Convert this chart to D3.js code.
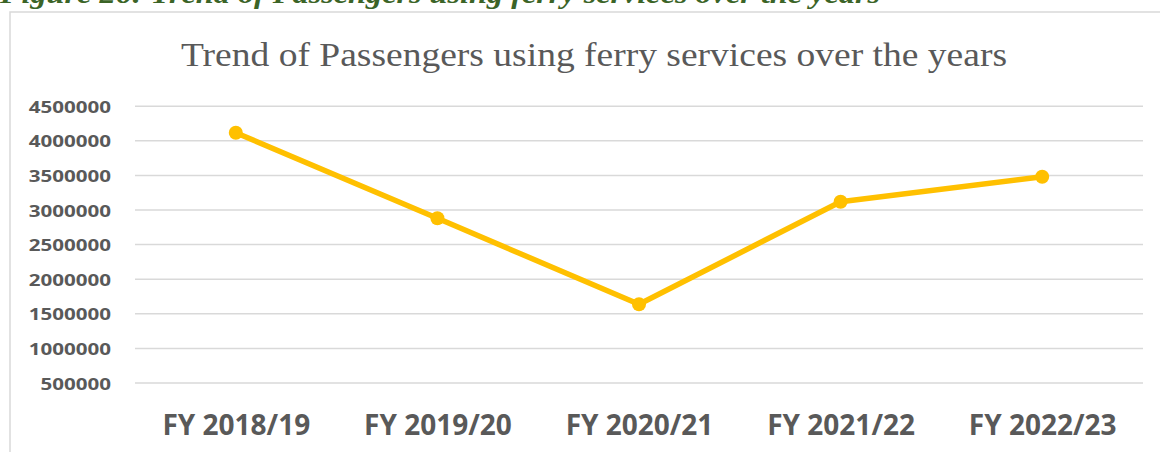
<!DOCTYPE html>
<html>
<head>
<meta charset="utf-8">
<script src="https://cdn.jsdelivr.net/npm/d3@7"></script>
<style>
  body { margin: 0; background: #fff; }
  svg { display: block; }
</style>
</head>
<body>
<div id="chart"></div>
<script>
// values
const years = ["FY 2018/19", "FY 2019/20", "FY 2020/21", "FY 2021/22", "FY 2022/23"];
const passengers = [4110000, 2873000, 1630000, 3113000, 3474000];
const yTicks = [500000, 1000000, 1500000, 2000000, 2500000, 3000000, 3500000, 4000000, 4500000];

const captionText = "Figure 26: Trend of Passengers using ferry services over the years";
const titleText = "Trend of Passengers using ferry services over the years";

const width = 1160, height = 452;
const plot = { left: 135, right: 1143, top: 105.7, bottom: 382.5 };
const grey = "#595959";

const svg = d3.select("#chart").append("svg")
    .attr("width", width)
    .attr("height", height);

// caption above the chart box, cut off by the top edge like in the source
svg.append("text")
    .attr("x", 0)
    .attr("y", 3)
    .attr("font-family", "Liberation Serif")
    .attr("font-weight", "bold")
    .attr("font-style", "italic")
    .attr("font-size", 27)
    .attr("fill", "#3b6427")
    .attr("textLength", 880)
    .attr("lengthAdjust", "spacingAndGlyphs")
    .text(captionText);

// chart box (right and bottom edges fall outside the picture)
svg.append("rect")
    .attr("x", 10)
    .attr("y", 12)
    .attr("width", 1200)
    .attr("height", 500)
    .attr("fill", "none")
    .attr("stroke", "#d9d9d9")
    .attr("stroke-width", 1.5);

svg.append("text")
    .attr("x", 594)
    .attr("y", 66)
    .attr("text-anchor", "middle")
    .attr("font-family", "Liberation Serif")
    .attr("font-size", 34)
    .attr("fill", grey)
    .attr("textLength", 826)
    .attr("lengthAdjust", "spacingAndGlyphs")
    .text(titleText);

const x = d3.scalePoint()
    .domain(years)
    .range([plot.left, plot.right])
    .padding(0.5);

const y = d3.scaleLinear()
    .domain([500000, 4500000])
    .range([plot.bottom, plot.top]);

// gridlines + y labels
const yAxis = svg.append("g")
    .attr("transform", `translate(${plot.left},0)`)
    .call(d3.axisLeft(y)
        .tickValues(yTicks)
        .tickFormat(d3.format("d"))
        .tickSize(-(plot.right - plot.left))
        .tickPadding(0));

yAxis.select(".domain").remove();
yAxis.selectAll(".tick line")
    .attr("stroke", "#d9d9d9")
    .attr("stroke-width", 1.5);
yAxis.selectAll(".tick text")
    .attr("x", -18)
    .attr("dy", "0.42em")
    .attr("transform", "scale(1.33,1)")
    .attr("font-family", "Open Sans")
    .attr("font-weight", "bold")
    .attr("font-size", 15.5)
    .attr("fill", grey);

// x labels
const xAxis = svg.append("g")
    .attr("transform", `translate(0,${plot.bottom})`)
    .call(d3.axisBottom(x).tickSize(0).tickPadding(0));

xAxis.select(".domain").remove();
xAxis.selectAll(".tick text")
    .attr("y", 52.5)
    .attr("dy", 0)
    .attr("font-family", "Open Sans")
    .attr("font-weight", "bold")
    .attr("font-size", 28)
    .attr("fill", grey);

// the series
const line = d3.line()
    .x((d, i) => x(years[i]))
    .y(d => y(d));

svg.append("path")
    .datum(passengers)
    .attr("fill", "none")
    .attr("stroke", "#ffc000")
    .attr("stroke-width", 5.5)
    .attr("stroke-linejoin", "round")
    .attr("d", line);

svg.append("g")
    .selectAll("circle")
    .data(passengers)
    .join("circle")
    .attr("cx", (d, i) => x(years[i]))
    .attr("cy", d => y(d))
    .attr("r", 7)
    .attr("fill", "#ffc000");
</script>
</body>
</html>
